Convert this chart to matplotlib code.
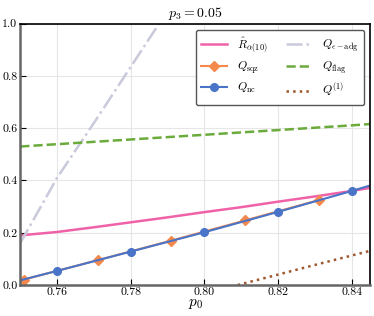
import numpy as np
import matplotlib
matplotlib.use('Agg')
import matplotlib.pyplot as plt

plt.rcParams['font.family'] = ['cmr10', 'DejaVu Serif']
plt.rcParams['mathtext.fontset'] = 'cm'
plt.rcParams['axes.formatter.use_mathtext'] = True

# curves
p0_grid = [0.75, 0.76, 0.77, 0.78, 0.79, 0.80, 0.81, 0.82, 0.83, 0.84, 0.845]
R_hat = [0.190, 0.203, 0.221, 0.240, 0.259, 0.279, 0.298, 0.319, 0.339, 0.360, 0.372]
Q_nc_line = [0.018, 0.054, 0.091, 0.128, 0.165, 0.202, 0.241, 0.280, 0.320, 0.360, 0.381]
Q_flag = [0.530, 0.539, 0.548, 0.557, 0.566, 0.575, 0.584, 0.593, 0.602, 0.611, 0.616]

p0_adg = [0.75, 0.76, 0.77, 0.78, 0.79]
Q_adg = [0.16, 0.41, 0.62, 0.835, 1.05]

p0_q1 = [0.809, 0.82, 0.83, 0.84, 0.845]
Q_1 = [0.0, 0.040, 0.077, 0.113, 0.131]

p0_nc = [0.76, 0.78, 0.80, 0.82, 0.84]
Q_nc = [0.054, 0.128, 0.202, 0.280, 0.360]

p0_sqz = [0.751, 0.771, 0.791, 0.811, 0.831]
Q_sqz = [0.021, 0.095, 0.170, 0.247, 0.325]

fig, ax = plt.subplots(figsize=(3.74, 3.16), dpi=100)

l_r, = ax.plot(p0_grid, R_hat, color='#f062a8', lw=1.8, label=r'$\hat{R}_{\alpha(10)}$')
l_sqz, = ax.plot(p0_sqz, Q_sqz, color='#f4894b', lw=1.5, marker='D', ms=5, label=r'$Q_{\rm sqz}$')
ax.plot(p0_grid, Q_nc_line, color='#4a74c8', lw=1.5)
ax.plot(p0_nc, Q_nc, color='#4a74c8', marker='o', ms=5.5, ls='none')
l_nc, = ax.plot([], [], color='#4a74c8', lw=1.5, marker='o', ms=5.5, label=r'$Q_{\rm nc}$')
l_adg, = ax.plot(p0_adg, Q_adg, color='#c9c9dc', lw=1.8, ls='-.', label=r'$Q_{\epsilon-{\rm adg}}$')
l_flag, = ax.plot(p0_grid, Q_flag, color='#6aab3c', lw=1.8, ls='--', label=r'$Q_{\rm flag}$')
l_q1, = ax.plot(p0_q1, Q_1, color='#a0562c', lw=1.8, ls=':', label=r'$Q^{(1)}$')

ax.set_xlim(0.75, 0.845)
ax.set_ylim(0.0, 1.0)
ax.set_xticks([0.76, 0.78, 0.80, 0.82, 0.84])
ax.set_yticks([0.0, 0.2, 0.4, 0.6, 0.8, 1.0])
ax.xaxis.set_major_formatter(matplotlib.ticker.FormatStrFormatter('%.2f'))
ax.yaxis.set_major_formatter(matplotlib.ticker.FormatStrFormatter('%.1f'))
ax.tick_params(direction='in', length=4, labelsize=8.5, pad=2)
ax.grid(True, color='#e6e6e6', lw=0.8)
ax.set_axisbelow(True)
for s in ['left', 'bottom']:
    ax.spines[s].set_color('#666666')
    ax.spines[s].set_linewidth(1.8)
for s in ['top', 'right']:
    ax.spines[s].set_color('black')
    ax.spines[s].set_linewidth(1.2)

ax.set_title(r'$p_3=0.05$', fontsize=10, pad=5)
ax.set_xlabel(r'$p_0$', fontsize=11, labelpad=0)

ax.legend(handles=[l_r, l_sqz, l_nc, l_adg, l_flag, l_q1], ncol=2, loc='upper right',
          fontsize=8.5, fancybox=True, edgecolor='#555555', framealpha=1,
          handlelength=2.2, columnspacing=1.6, borderpad=0.5, labelspacing=0.45,
          handletextpad=0.8)

plt.subplots_adjust(left=0.054, right=0.99, top=0.925, bottom=0.098)
plt.savefig('out.png', dpi=100)
